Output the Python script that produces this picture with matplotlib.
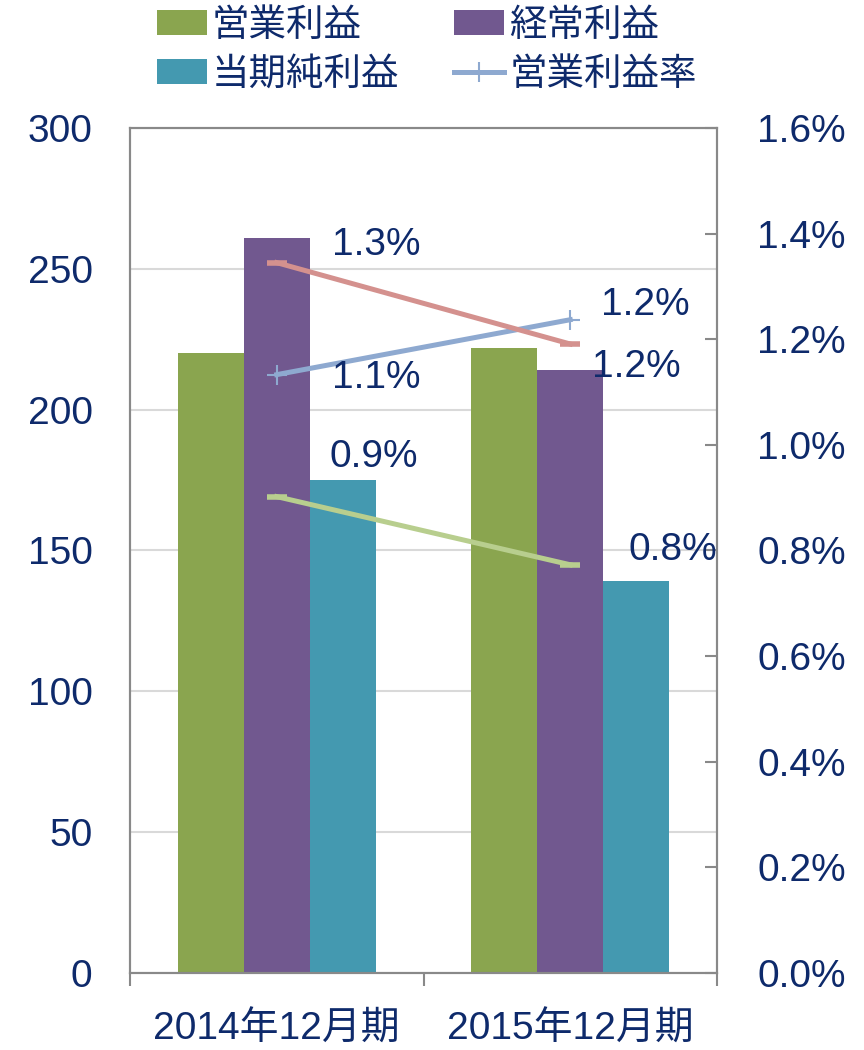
import numpy as np
import matplotlib.pyplot as plt

plt.rcParams['font.family'] = ['Liberation Sans', 'Noto Sans CJK JP']

periods = ['2014年12月期', '2015年12月期']
series_names = ['営業利益', '経常利益', '当期純利益']
op_profit = [220, 222]
ord_profit = [261, 214]
net_profit = [175, 139]
op_margin = [1.133, 1.237]     # 営業利益率 (%)
ord_margin = [1.345, 1.191]    # 経常利益率 (%)
net_margin = [0.902, 0.773]    # 純利益率 (%)

navy = '#0E2A6B'
spine_col = '#898989'
bar_cols = ['#8AA54F', '#71588F', '#4499B0']
line_cols = ['#8EA9D0', '#D4918E', '#B8CE8E']
fs = 28

fig = plt.figure(figsize=(8.64, 10.5), dpi=100)
ax = fig.add_axes([130/864, 77/1050, 587/864, 845/1050])
x = np.arange(len(periods))
w = 0.225
bars = []
for i, (vals, name) in enumerate(zip([op_profit, ord_profit, net_profit], series_names)):
    b = ax.bar(x + (i - 1) * w, vals, w, color=bar_cols[i], label=name, zorder=2)
    bars.append(b)

ax.set_xlim(-0.5, 1.5)
ax.set_ylim(0, 300)
ax.set_yticks(np.arange(0, 301, 50))
ax.yaxis.grid(True, color='#D9D9D9', lw=1.5, zorder=0)
ax.set_axisbelow(True)
ax.tick_params(axis='y', length=0, pad=27, labelsize=fs, labelcolor=navy)
ax.set_xticks(x, periods)
ax.set_xticks([-0.5, 0.5, 1.5], minor=True)
ax.tick_params(axis='x', which='major', length=0, pad=28, labelsize=fs, labelcolor=navy)
ax.tick_params(axis='x', which='minor', length=9, width=1.5, color=spine_col, direction='out')
for s in ax.spines.values():
    s.set_color(spine_col)
    s.set_linewidth(1.5)

ax2 = ax.twinx()
ax2.set_ylim(0, 1.6)
ax2.set_yticks(np.arange(0, 1.61, 0.2))
ax2.set_yticklabels(['%.1f%%' % v for v in np.arange(0, 1.61, 0.2)])
ax2.tick_params(axis='y', direction='in', length=9, width=1.5, color=spine_col,
                pad=29, labelsize=fs, labelcolor=navy)
for s in ax2.spines.values():
    s.set_color(spine_col)
    s.set_linewidth(1.5)

l1, = ax2.plot(x, op_margin, color=line_cols[0], lw=3.6, marker='+', ms=15, mew=1.5,
               label='営業利益率')
ax2.plot(x, ord_margin, color=line_cols[1], lw=3.6, marker='_', ms=15, mew=4)
ax2.plot(x, net_margin, color=line_cols[2], lw=3.6, marker='_', ms=15, mew=4)

# data labels (offsets in pixels)
labels = [
    (op_margin, [(55, -3), (31, 15)]),
    (ord_margin, [(55, 18), (22, -23)]),
    (net_margin, [(53, 40), (58, 15)]),
]
for vals, offs in labels:
    for xi, v, off in zip(x, vals, offs):
        ax2.annotate('%.1f%%' % v, (xi, v), xytext=off, textcoords='offset pixels',
                     ha='left', va='center', fontsize=fs, color=navy)

handles = [bars[0], bars[2], bars[1], l1]
names = ['営業利益', '当期純利益', '経常利益', '営業利益率']
fig.legend(handles, names, ncol=2, loc='upper left', bbox_to_anchor=(157/864, 1 - 8/1050),
           frameon=False, fontsize=27, labelcolor=navy, handlelength=1.33,
           handleheight=0.65, handletextpad=0.13, columnspacing=1.47,
           labelspacing=0.35, borderpad=0, borderaxespad=0)

fig.savefig('out.png', dpi=100)
